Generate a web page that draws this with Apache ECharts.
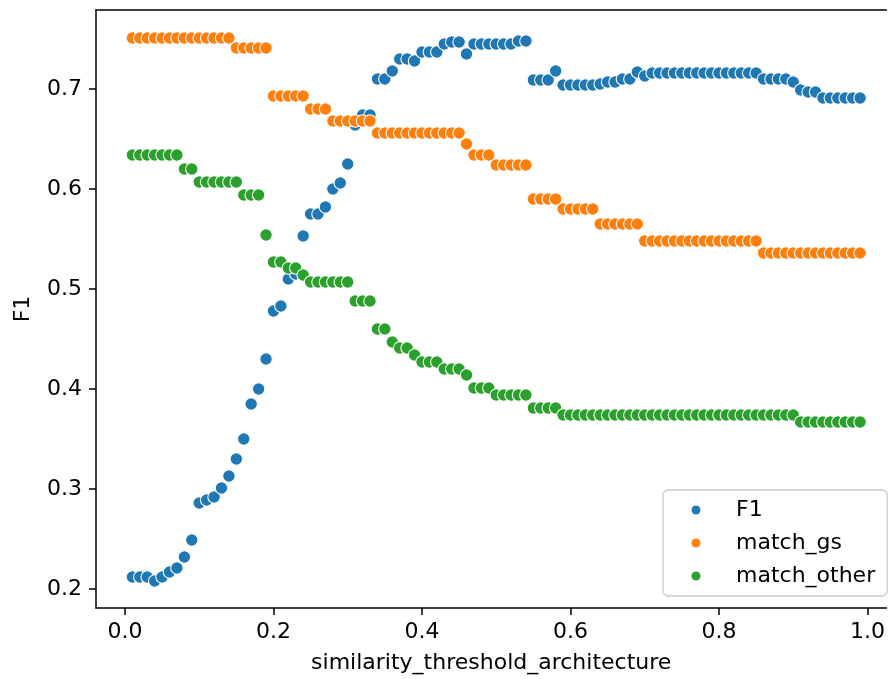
<!DOCTYPE html>
<html>
<head>
<meta charset="utf-8">
<script src="https://cdn.jsdelivr.net/npm/echarts@6/dist/echarts.min.js"></script>
<style>
html,body{margin:0;padding:0;background:#fff;}
#chart{width:888px;height:679px;}
</style>
</head>
<body>
<div id="chart"></div>
<script>
const thresholds = [0.01,0.02,0.03,0.04,0.05,0.06,0.07,0.08,0.09,0.10,
0.11,0.12,0.13,0.14,0.15,0.16,0.17,0.18,0.19,0.20,
0.21,0.22,0.23,0.24,0.25,0.26,0.27,0.28,0.29,0.30,
0.31,0.32,0.33,0.34,0.35,0.36,0.37,0.38,0.39,0.40,
0.41,0.42,0.43,0.44,0.45,0.46,0.47,0.48,0.49,0.50,
0.51,0.52,0.53,0.54,0.55,0.56,0.57,0.58,0.59,0.60,
0.61,0.62,0.63,0.64,0.65,0.66,0.67,0.68,0.69,0.70,
0.71,0.72,0.73,0.74,0.75,0.76,0.77,0.78,0.79,0.80,
0.81,0.82,0.83,0.84,0.85,0.86,0.87,0.88,0.89,0.90,
0.91,0.92,0.93,0.94,0.95,0.96,0.97,0.98,0.99];

const f1 = [0.212,0.212,0.212,0.208,0.212,0.217,0.221,0.232,0.249,0.286,
0.289,0.292,0.301,0.313,0.330,0.350,0.385,0.400,0.430,0.478,
0.483,0.510,0.515,0.553,0.575,0.575,0.582,0.600,0.606,0.625,
0.664,0.674,0.674,0.710,0.710,0.718,0.730,0.730,0.728,0.737,
0.737,0.737,0.745,0.747,0.747,0.735,0.745,0.745,0.745,0.745,
0.745,0.745,0.748,0.748,0.709,0.709,0.709,0.718,0.704,0.704,
0.704,0.704,0.704,0.705,0.707,0.707,0.710,0.710,0.717,0.713,
0.716,0.716,0.716,0.716,0.716,0.716,0.716,0.716,0.716,0.716,
0.716,0.716,0.716,0.716,0.716,0.710,0.710,0.710,0.710,0.707,
0.699,0.697,0.697,0.691,0.691,0.691,0.691,0.691,0.691];

const matchGs = [0.751,0.751,0.751,0.751,0.751,0.751,0.751,0.751,0.751,0.751,
0.751,0.751,0.751,0.751,0.741,0.741,0.741,0.741,0.741,0.693,
0.693,0.693,0.693,0.693,0.680,0.680,0.680,0.668,0.668,0.668,
0.668,0.668,0.668,0.656,0.656,0.656,0.656,0.656,0.656,0.656,
0.656,0.656,0.656,0.656,0.656,0.645,0.634,0.634,0.634,0.624,
0.624,0.624,0.624,0.624,0.590,0.590,0.590,0.590,0.580,0.580,
0.580,0.580,0.580,0.565,0.565,0.565,0.565,0.565,0.565,0.548,
0.548,0.548,0.548,0.548,0.548,0.548,0.548,0.548,0.548,0.548,
0.548,0.548,0.548,0.548,0.548,0.536,0.536,0.536,0.536,0.536,
0.536,0.536,0.536,0.536,0.536,0.536,0.536,0.536,0.536];

const matchOther = [0.634,0.634,0.634,0.634,0.634,0.634,0.634,0.620,0.620,0.607,
0.607,0.607,0.607,0.607,0.607,0.594,0.594,0.594,0.554,0.527,
0.527,0.521,0.521,0.514,0.507,0.507,0.507,0.507,0.507,0.507,
0.488,0.488,0.488,0.460,0.460,0.447,0.441,0.441,0.434,0.427,
0.427,0.427,0.420,0.420,0.420,0.414,0.401,0.401,0.401,0.394,
0.394,0.394,0.394,0.394,0.381,0.381,0.381,0.381,0.374,0.374,
0.374,0.374,0.374,0.374,0.374,0.374,0.374,0.374,0.374,0.374,
0.374,0.374,0.374,0.374,0.374,0.374,0.374,0.374,0.374,0.374,
0.374,0.374,0.374,0.374,0.374,0.374,0.374,0.374,0.374,0.374,
0.367,0.367,0.367,0.367,0.367,0.367,0.367,0.367,0.367];

const xTicks = [0.0,0.2,0.4,0.6,0.8,1.0];
const yTicks = [0.2,0.3,0.4,0.5,0.6,0.7];
const seriesNames = ['F1','match_gs','match_other'];
const seriesColors = ['#1f77b4','#ff7f0e','#2ca02c'];
const seriesValues = [f1, matchGs, matchOther];

const FONT = 'DejaVu Sans';
const chart = echarts.init(document.getElementById('chart'), null, {renderer:'canvas'});

const AXLINE = {show:true, onZero:false, lineStyle:{color:'#000', width:1.5}};

chart.setOption({
  animation:false,
  backgroundColor:'#fff',
  grid:{left:96, right:0, top:10, bottom:71, show:false, containLabel:false},
  xAxis:[{
    type:'value', min:-0.039, max:1.0255, position:'bottom',
    name:'similarity_threshold_architecture', nameLocation:'middle', nameGap:44,
    nameTextStyle:{fontFamily:FONT, fontSize:22, color:'#000'},
    axisLine:AXLINE, splitLine:{show:false},
    axisTick:{show:true, inside:false, length:7, lineStyle:{color:'#000', width:1.5}, customValues:xTicks},
    axisLabel:{fontFamily:FONT, fontSize:22, color:'#000', margin:13, customValues:xTicks,
      formatter:v=>v.toFixed(1)}
  },{
    type:'value', min:-0.039, max:1.0255, position:'top',
    axisLine:AXLINE, splitLine:{show:false}, axisTick:{show:false}, axisLabel:{show:false}
  }],
  yAxis:{
    type:'value', min:0.181, max:0.779,
    name:'F1', nameLocation:'middle', nameGap:62, nameRotate:90,
    nameTextStyle:{fontFamily:FONT, fontSize:22, color:'#000'},
    axisLine:AXLINE, splitLine:{show:false},
    axisTick:{show:true, inside:false, length:7, lineStyle:{color:'#000', width:1.5}, customValues:yTicks},
    axisLabel:{fontFamily:FONT, fontSize:22, color:'#000', margin:14, customValues:yTicks,
      formatter:v=>v.toFixed(1)}
  },
  legend:{
    orient:'vertical', left:663, top:490,
    padding:[9,12,9,26.5],
    itemWidth:11, itemHeight:11, itemGap:11,
    icon:'circle',
    backgroundColor:'#fff',
    borderColor:'#cccccc', borderWidth:1.3, borderRadius:5,
    textStyle:{fontFamily:FONT, fontSize:22, color:'#000', lineHeight:22, padding:[0,0,0,29.5]},
    data:seriesNames
  },
  series:seriesNames.map((n,i)=>({
    name:n, type:'scatter', xAxisIndex:0, yAxisIndex:0,
    symbol:'circle', symbolSize:12.5,
    itemStyle:{color:seriesColors[i], borderColor:'#fff', borderWidth:1.1, opacity:1},
    data:thresholds.map((x,j)=>[x, seriesValues[i][j]]),
    z:2+i
  }))
});
</script>
</body>
</html>
